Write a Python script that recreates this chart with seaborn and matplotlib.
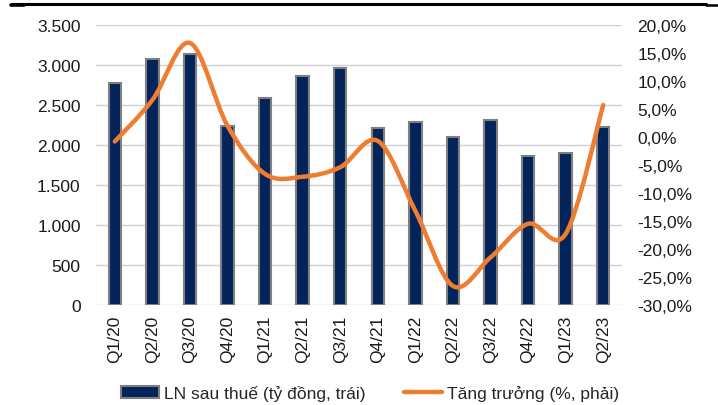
import numpy as np
import pandas as pd
import seaborn as sns
import matplotlib.pyplot as plt
from matplotlib.path import Path
from matplotlib.patches import PathPatch, Patch
from matplotlib.lines import Line2D
from matplotlib.ticker import FuncFormatter, MultipleLocator

quarters = ["Q1/20", "Q2/20", "Q3/20", "Q4/20", "Q1/21", "Q2/21", "Q3/21",
            "Q4/21", "Q1/22", "Q2/22", "Q3/22", "Q4/22", "Q1/23", "Q2/23"]
profit = [2770, 3075, 3140, 2237, 2592, 2862, 2958,
          2208, 2283, 2104, 2317, 1867, 1900, 2221]
growth = [-0.8, 6.6, 16.8, 2.0, -6.6, -7.1, -5.4,
          -0.7, -13.2, -26.6, -21.5, -15.5, -17.3, 5.7]

bar_label = "LN sau thuế (tỷ đồng, trái)"
line_label = "Tăng trưởng (%, phải)"

NAVY = "#02245a"
ORANGE = "#ed7d31"
FS = 12.5

sns.set_theme(style="white")
plt.rcParams["font.family"] = ["Liberation Sans", "DejaVu Sans"]

fig = plt.figure(figsize=(7.18, 4.06), dpi=100)
ax = fig.add_axes([96 / 718, 1 - 306 / 406, 526 / 718, 280 / 406])

df = pd.DataFrame({"quarter": quarters, "profit": profit})
sns.barplot(data=df, x="quarter", y="profit", color=NAVY, saturation=1,
            width=0.33, edgecolor="#7f7f7f", linewidth=1.5, ax=ax)
ax.set_ylim(0, 3500)
ax.set_xlim(-0.5, len(quarters) - 0.5)
ax.yaxis.set_major_locator(MultipleLocator(500))
ax.yaxis.set_major_formatter(FuncFormatter(lambda v, p: f"{int(v):,}".replace(",", ".")))
ax.grid(axis="y", color="#d0d0d0", lw=1.0)
ax.set_axisbelow(True)
ax.set_xlabel("")
ax.set_ylabel("")
for s in ax.spines.values():
    s.set_visible(False)
ax.tick_params(axis="y", length=0, pad=11, labelsize=FS, colors="#1a1a1a")
ax.tick_params(axis="x", length=0, pad=7, labelsize=FS, colors="#1a1a1a",
               labelrotation=90)

# smoothed growth line (Excel-style smoothing via cubic Bezier segments)
ax2 = ax.twinx()
ax2.set_ylim(-30, 20)
ax2.yaxis.set_major_locator(MultipleLocator(5))
ax2.yaxis.set_major_formatter(FuncFormatter(lambda v, p: f"{v:.1f}%".replace(".", ",")))
ax2.tick_params(axis="y", length=0, pad=11, labelsize=FS, colors="#1a1a1a")
for s in ax2.spines.values():
    s.set_visible(False)
ax2.grid(False)

pts = np.column_stack([np.arange(len(growth)), growth]).astype(float)
ext = np.vstack([pts[0], pts, pts[-1]])
verts = [tuple(pts[0])]
codes = [Path.MOVETO]
for i in range(1, len(ext) - 2):
    p0, p1, p2, p3 = ext[i - 1], ext[i], ext[i + 1], ext[i + 2]
    c1 = p1 + (p2 - p0) / 6
    c2 = p2 - (p3 - p1) / 6
    verts += [tuple(c1), tuple(c2), tuple(p2)]
    codes += [Path.CURVE4] * 3
ax2.add_patch(PathPatch(Path(verts, codes), fill=False, edgecolor=ORANGE,
                        lw=3.2, capstyle="round", joinstyle="round"))

handles = [Patch(facecolor=NAVY, edgecolor="#7f7f7f", linewidth=1.5),
           Line2D([], [], color=ORANGE, lw=3.2)]
fig.legend(handles, [bar_label, line_label], loc="center", ncol=2,
           bbox_to_anchor=(370 / 718, 1 - 394 / 406), frameon=False,
           fontsize=FS, handlelength=2.2, handleheight=0.7,
           handletextpad=0.3, columnspacing=2.2)

# black rule at the top
fig.add_artist(Line2D([12 / 718, 706 / 718], [1 - 4.5 / 406] * 2,
                      color="black", lw=2.2))
fig.add_artist(Line2D([11 / 718, 24 / 718], [1 - 5.5 / 406] * 2,
                      color="black", lw=2.6))
fig.add_artist(Line2D([706 / 718, 718 / 718], [1 - 5.8 / 406] * 2,
                      color="black", lw=1.8))

fig.savefig("out.png", dpi=100)
